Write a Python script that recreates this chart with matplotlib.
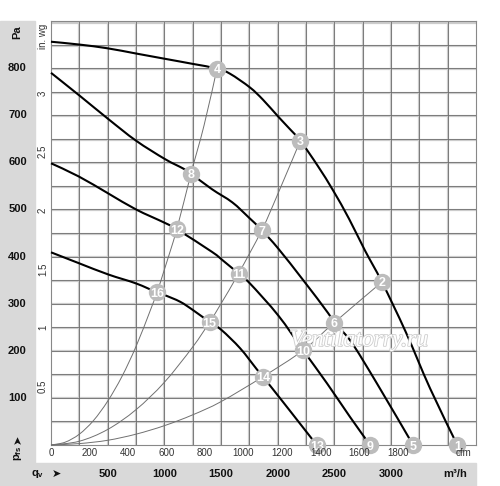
import matplotlib
matplotlib.use("Agg")
import matplotlib.pyplot as plt
import matplotlib.patches as mpatches
import matplotlib.patheffects as pe
import matplotlib.transforms as mtrans
from matplotlib.path import Path
import numpy as np

## 1. Data (m3/h on x, Pa on y)
CURVE_A_Q = [0, 250, 500, 750, 1000, 1250, 1465, 1580, 1755, 1870, 2005, 2110, 2200, 2355, 2490, 2630, 2770, 2920, 3130, 3345, 3585]
CURVE_A_P = [856, 850, 842, 831, 820, 809, 799, 788, 759, 733, 697, 670, 646, 592, 540, 480, 413, 346, 240, 120, 0]

CURVE_B_Q = [0, 255, 505, 750, 1005, 1165, 1235, 1420, 1600, 1745, 1860, 2005, 2225, 2445, 2495, 2640, 2875, 3195]
CURVE_B_P = [790, 741, 692, 646, 607, 587, 576, 543, 515, 483, 456, 417, 350, 280, 259, 222, 131, 0]

CURVE_C_Q = [0, 245, 505, 750, 1000, 1110, 1420, 1520, 1655, 1755, 2005, 2225, 2435, 2640, 2815]
CURVE_C_P = [598, 570, 534, 500, 472, 458, 410, 391, 364, 343, 275, 201, 131, 59, 0]

CURVE_D_Q = [0, 245, 505, 750, 935, 1005, 1140, 1255, 1400, 1505, 1670, 1815, 1870, 2045, 2195, 2345]
CURVE_D_P = [409, 386, 362, 343, 324, 318, 304, 286, 261, 244, 205, 161, 145, 92, 46, 0]

# system (resistance) curves through the numbered points
SYS_1_Q = [0, 125, 250, 375, 500, 625, 750, 875, 935, 1000, 1110, 1235, 1350, 1465]
SYS_1_P = [0, 6, 23, 52, 93, 145, 209, 285, 324, 372, 458, 576, 678, 799]
SYS_2_Q = [0, 250, 500, 750, 1000, 1250, 1400, 1500, 1655, 1860, 2000, 2200]
SYS_2_P = [0, 8, 33, 75, 133, 208, 261, 300, 364, 456, 532, 646]
SYS_3_Q = [0, 250, 500, 750, 1000, 1250, 1500, 1870, 2225, 2495, 2920]
SYS_3_P = [0, 3, 10, 23, 41, 64, 92, 145, 201, 259, 346]

# numbered operating points
POINT_LABELS = ["1", "2", "3", "4", "5", "6", "7", "8", "9", "10", "11", "12", "13", "14", "15", "16"]
POINT_Q = [3585, 2920, 2200, 1465, 3195, 2495, 1860, 1235, 2815, 2225, 1655, 1110, 2345, 1870, 1400, 935]
POINT_P = [0, 346, 646, 799, 0, 259, 456, 576, 0, 201, 364, 458, 0, 145, 261, 324]

PA_TICKS = [100, 200, 300, 400, 500, 600, 700, 800]
INWG_TICKS = [0.5, 1, 1.5, 2, 2.5, 3]
CFM_TICKS = [0, 200, 400, 600, 800, 1000, 1200, 1400, 1600, 1800]
M3H_TICKS = [500, 1000, 1500, 2000, 2500, 3000]

PA_PER_INWG = 249.09
M3H_PER_CFM = 1.699


def smooth_path(q, p):
    # smooth bezier path running through the read points
    pts = np.column_stack([q, p]).astype(float)
    ext = np.vstack([pts[0], pts, pts[-1]])
    verts = [pts[0]]
    codes = [Path.MOVETO]
    for i in range(len(pts) - 1):
        p0, p1, p2, p3 = ext[i], ext[i + 1], ext[i + 2], ext[i + 3]
        verts += [p1 + (p2 - p0) / 6, p2 - (p3 - p1) / 6, p2]
        codes += [Path.CURVE4] * 3
    return Path(verts, codes)


## 2. Figure and layout
plt.rcParams["font.family"] = ["Liberation Sans", "DejaVu Sans"]
plt.rcParams["mathtext.fontset"] = "custom"
plt.rcParams["mathtext.rm"] = "Liberation Sans"
plt.rcParams["mathtext.bf"] = "Liberation Sans:bold"

W, H = 500, 486
fig = plt.figure(figsize=(W / 100, H / 100), dpi=100)

# L-shaped gray band on the left and bottom
gray = "#d9d9d9"
fig.patches.append(mpatches.Rectangle((0, 0), 35 / W, (H - 21) / H, transform=fig.transFigure,
                                      color=gray, zorder=0))
fig.patches.append(mpatches.Rectangle((0, 0), 476 / W, (H - 463) / H, transform=fig.transFigure,
                                      color=gray, zorder=0))

ax = fig.add_axes([51 / W, (H - 445) / H, 425 / W, 424 / H])
ax.set_xlim(0, 3750)
ax.set_ylim(0, 900)
ax.set_xticks([])
ax.set_yticks([])
for s in ax.spines.values():
    s.set_color("#888888")
    s.set_linewidth(0.8)

# double grid: light (in.wg) under dark (Pa / m3/h)
for k in range(1, 19):
    ax.axhline(k * 0.2 * PA_PER_INWG, color="#cccccc", lw=1.6, zorder=1)
for v in range(250, 3750, 250):
    ax.axvline(v, color="#cccccc", lw=1.6, zorder=1)
for v in range(50, 900, 50):
    ax.axhline(v, color="#6e6e6e", lw=0.6, zorder=2)
for v in range(250, 3750, 250):
    ax.axvline(v, color="#6e6e6e", lw=0.6, zorder=2)

## 3. Curves
for q, p in [(SYS_1_Q, SYS_1_P), (SYS_2_Q, SYS_2_P), (SYS_3_Q, SYS_3_P)]:
    ax.add_patch(mpatches.PathPatch(smooth_path(q, p), fill=False, edgecolor="#707070",
                                    lw=0.7, zorder=3, clip_on=False))

for q, p in [(CURVE_A_Q, CURVE_A_P), (CURVE_B_Q, CURVE_B_P), (CURVE_C_Q, CURVE_C_P), (CURVE_D_Q, CURVE_D_P)]:
    ax.add_patch(mpatches.PathPatch(smooth_path(q, p), fill=False, edgecolor="black",
                                    lw=1.5, zorder=4, clip_on=False, capstyle="butt"))

# watermark
ax.text(2720, 222, "Ventilatorry.ru", fontsize=17, style="italic", family="Liberation Serif",
        color="white", ha="center", va="center", zorder=5,
        path_effects=[pe.Stroke(linewidth=1.2, foreground="#cdcdcd"), pe.Normal()])

ax.plot(POINT_Q, POINT_P, "o", ms=12.5, color="#bcbcbc", mec="none", zorder=6, clip_on=False)
for lab, q, p in zip(POINT_LABELS, POINT_Q, POINT_P):
    ax.text(q, p, lab, color="white", fontsize=9, fontweight="bold", ha="center", va="center_baseline",
            zorder=7, clip_on=False)

## 4. Scale labels
left_tr = mtrans.blended_transform_factory(fig.transFigure, ax.transData)
bottom_tr = mtrans.blended_transform_factory(ax.transData, fig.transFigure)

for v in PA_TICKS:
    fig.text(17.5 / W, v, str(v), transform=left_tr, fontsize=8, fontweight="bold",
             ha="center", va="center", color="#111111")
fig.text(17.5 / W, (H - 32) / H, "Pa", fontsize=8, fontweight="bold", rotation=90,
         ha="center", va="center", color="#111111")
fig.text(17.5 / W, (H - 453) / H, r"$\mathbf{p_{fs}}$", fontsize=8, rotation=90,
         ha="center", va="center", color="#111111")
fig.text(17.5 / W, (H - 439) / H, "➤", fontsize=8, rotation=90, family="DejaVu Sans",
         ha="center", va="center", color="#111111")

for v in INWG_TICKS:
    fig.text(43 / W, v * PA_PER_INWG, f"{v:g}", transform=left_tr, fontsize=7, rotation=90,
             ha="center", va="center", color="#333333")
fig.text(43 / W, (H - 36) / H, "in. wg", fontsize=7, rotation=90,
         ha="center", va="center", color="#333333")

for v in CFM_TICKS:
    fig.text(v * M3H_PER_CFM, (H - 453) / H, str(v), transform=bottom_tr, fontsize=7,
             ha="center", va="center", color="#333333")
fig.text(463 / W, (H - 453) / H, "cfm", fontsize=7, ha="center", va="center", color="#333333")

for v in M3H_TICKS:
    fig.text(v, (H - 474) / H, str(v), transform=bottom_tr, fontsize=8, fontweight="bold",
             ha="center", va="center", color="#111111")
fig.text(455 / W, (H - 474) / H, "m³/h", fontsize=8, fontweight="bold",
         ha="center", va="center", color="#111111")
fig.text(38 / W, (H - 474) / H, r"$\mathbf{q_{v}}$", fontsize=8,
         ha="center", va="center", color="#111111")
fig.text(56 / W, (H - 474) / H, "➤", fontsize=8, family="DejaVu Sans",
         ha="center", va="center", color="#111111")

fig.savefig("out.png", dpi=100)
